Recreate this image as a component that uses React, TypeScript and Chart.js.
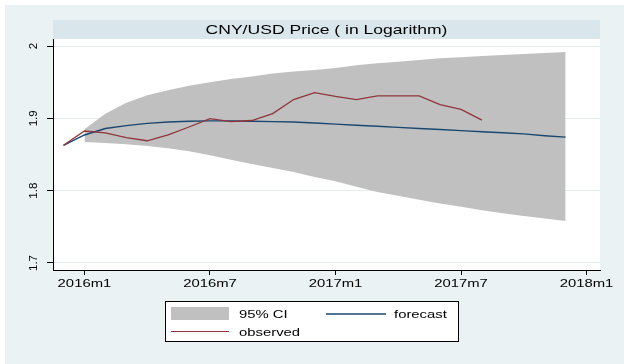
import React, { useEffect, useRef } from 'react';
import { Chart, registerables } from 'chart.js';

Chart.register(...registerables);

// ---------- data ----------
const observedMonths = [
  '2015m12', '2016m1', '2016m2', '2016m3', '2016m4', '2016m5', '2016m6', '2016m7',
  '2016m8', '2016m9', '2016m10', '2016m11', '2016m12', '2017m1', '2017m2', '2017m3',
  '2017m4', '2017m5', '2017m6', '2017m7', '2017m8',
];
const observedValues = [
  1.8627, 1.8825, 1.880, 1.8733, 1.8690, 1.877, 1.888, 1.8996,
  1.8954, 1.897, 1.9065, 1.926, 1.9355, 1.9304, 1.926, 1.931,
  1.931, 1.931, 1.919, 1.9125, 1.8976,
];

const forecastMonths = [
  '2015m12', '2016m1', '2016m2', '2016m3', '2016m4', '2016m5', '2016m6', '2016m7',
  '2016m8', '2016m9', '2016m10', '2016m11', '2016m12', '2017m1', '2017m2', '2017m3',
  '2017m4', '2017m5', '2017m6', '2017m7', '2017m8', '2017m9', '2017m10', '2017m11', '2017m12',
];
const forecastValues = [
  1.8627, 1.877, 1.886, 1.890, 1.893, 1.895, 1.896, 1.8965,
  1.8965, 1.896, 1.8955, 1.895, 1.8935, 1.892, 1.8905, 1.889,
  1.8875, 1.886, 1.8845, 1.883, 1.8815, 1.880, 1.8785, 1.876, 1.874,
];

const ciMonths = [
  '2016m1', '2016m2', '2016m3', '2016m4', '2016m5', '2016m6', '2016m7', '2016m8',
  '2016m9', '2016m10', '2016m11', '2016m12', '2017m1', '2017m2', '2017m3', '2017m4',
  '2017m5', '2017m6', '2017m7', '2017m8', '2017m9', '2017m10', '2017m11', '2017m12',
];
const ciUpper = [
  1.885, 1.9065, 1.9217, 1.932, 1.939, 1.945, 1.950, 1.9544,
  1.958, 1.962, 1.9646, 1.967, 1.9696, 1.9733, 1.976, 1.9784,
  1.9807, 1.983, 1.9844, 1.9862, 1.9876, 1.989, 1.9903, 1.9917,
];
const ciLower = [
  1.8673, 1.8659, 1.864, 1.8617, 1.8585, 1.8544, 1.8488, 1.8429,
  1.8368, 1.8313, 1.8257, 1.819, 1.8129, 1.8053, 1.7983, 1.7928,
  1.7876, 1.7824, 1.7776, 1.773, 1.7689, 1.765, 1.7614, 1.758,
];

const xTickLabels = ['2016m1', '2016m7', '2017m1', '2017m7', '2018m1'];
const yTickLabels = ['1.7', '1.8', '1.9', '2'];
const titleText = 'CNY/USD Price ( in Logarithm)';
const legendLabels = ['95% CI', 'forecast', 'observed'];

// ---------- helpers ----------
const monthIndex = (s: string) => {
  const [y, m] = s.split('m').map(Number);
  return (y - 2016) * 12 + (m - 1);
};
const toPoints = (months: string[], vals: number[]) =>
  months.map((m, i) => ({ x: monthIndex(m), y: vals[i] }));

const W = 624;
const H = 364;
const BG = '#eaf2f3';
const TITLE_BG = '#d9e6eb';
const RED = '#90353b';
const NAVY = '#1a476f';
const GREY = '#c0c0c0';
const TEXT = '#000000';
const FONT = '"Liberation Sans", Arial, sans-serif';
const SX = 1.35;

function stretchText(
  ctx: CanvasRenderingContext2D, text: string, x: number, y: number,
  align: CanvasTextAlign, sx: number,
) {
  ctx.save();
  ctx.translate(x, y);
  ctx.scale(sx, 1);
  ctx.textAlign = align;
  ctx.textBaseline = 'alphabetic';
  ctx.fillText(text, 0, 0);
  ctx.restore();
}

const decor = {
  id: 'decor',
  beforeDraw(chart: any) {
    const { ctx, chartArea: ca } = chart;
    ctx.save();
    ctx.fillStyle = '#ffffff';
    ctx.fillRect(0, 0, W, H);
    ctx.fillStyle = BG;
    ctx.fillRect(5, 5, W - 5, H - 5);
    ctx.fillStyle = TITLE_BG;
    ctx.fillRect(ca.left, 20, ca.right - ca.left, ca.top - 20);
    ctx.fillStyle = '#ffffff';
    ctx.fillRect(ca.left, ca.top, ca.right - ca.left, ca.bottom - ca.top);
    ctx.restore();
  },
  afterDraw(chart: any) {
    const { ctx, chartArea: ca, scales } = chart;
    ctx.save();
    ctx.fillStyle = TEXT;
    // title
    ctx.font = `13px ${FONT}`;
    stretchText(ctx, titleText, (ca.left + ca.right) / 2, 34, 'center', SX);
    // x tick labels
    ctx.font = `11px ${FONT}`;
    scales.x.ticks.forEach((t: any, i: number) => {
      const px = scales.x.getPixelForValue(t.value);
      stretchText(ctx, xTickLabels[i], px, 287, 'center', SX);
    });
    // y tick labels (rotated)
    ctx.font = `11.5px ${FONT}`;
    scales.y.ticks.forEach((t: any, i: number) => {
      const py = scales.y.getPixelForValue(t.value);
      ctx.save();
      ctx.translate(36.5, py);
      ctx.rotate(-Math.PI / 2);
      ctx.textAlign = 'center';
      ctx.textBaseline = 'alphabetic';
      ctx.fillText(yTickLabels[i], 0, 0);
      ctx.restore();
    });
    // legend
    ctx.fillStyle = '#ffffff';
    ctx.fillRect(165, 301, 293, 41);
    ctx.strokeStyle = '#000000';
    ctx.lineWidth = 1;
    ctx.strokeRect(165.5, 301.5, 293, 40);
    ctx.fillStyle = GREY;
    ctx.fillRect(171, 307, 58, 13);
    ctx.strokeStyle = NAVY;
    ctx.lineWidth = 1.3;
    ctx.beginPath();
    ctx.moveTo(326, 314);
    ctx.lineTo(386, 314);
    ctx.stroke();
    ctx.strokeStyle = RED;
    ctx.lineWidth = 1.2;
    ctx.beginPath();
    ctx.moveTo(171, 331.5);
    ctx.lineTo(229, 331.5);
    ctx.stroke();
    ctx.fillStyle = TEXT;
    ctx.font = `11px ${FONT}`;
    stretchText(ctx, legendLabels[0], 239, 318, 'left', SX);
    stretchText(ctx, legendLabels[1], 394, 318, 'left', SX);
    stretchText(ctx, legendLabels[2], 239, 336, 'left', SX);
    ctx.restore();
  },
};

export default function App() {
  const ref = useRef<HTMLCanvasElement | null>(null);

  useEffect(() => {
    if (!ref.current) return;
    const xTickValues = xTickLabels.map(monthIndex);
    const yTickValues = yTickLabels.map(Number);
    const chart = new Chart(ref.current, {
      type: 'line',
      data: {
        datasets: [
          {
            label: legendLabels[2],
            data: toPoints(observedMonths, observedValues),
            borderColor: RED,
            borderWidth: 1.3,
            pointRadius: 0,
            tension: 0,
            fill: false,
          },
          {
            label: legendLabels[1],
            data: toPoints(forecastMonths, forecastValues),
            borderColor: NAVY,
            borderWidth: 1.4,
            pointRadius: 0,
            tension: 0,
            fill: false,
          },
          {
            label: legendLabels[0],
            data: toPoints(ciMonths, ciUpper),
            borderWidth: 0,
            borderColor: 'rgba(0,0,0,0)',
            backgroundColor: GREY,
            pointRadius: 0,
            tension: 0,
            fill: '+1',
          },
          {
            label: 'lower',
            data: toPoints(ciMonths, ciLower),
            borderWidth: 0,
            borderColor: 'rgba(0,0,0,0)',
            backgroundColor: GREY,
            pointRadius: 0,
            tension: 0,
            fill: false,
          },
        ],
      },
      options: {
        animation: false,
        responsive: false,
        devicePixelRatio: 1,
        layout: { padding: { left: 0, right: 24, top: 39, bottom: 0 } },
        plugins: {
          legend: { display: false },
          title: { display: false },
          tooltip: { enabled: false },
        },
        scales: {
          x: {
            type: 'linear',
            min: -1.503,
            max: 24.644,
            afterBuildTicks: (s: any) => {
              s.ticks = xTickValues.map((v) => ({ value: v }));
            },
            afterFit: (s: any) => {
              s.height = 94;
            },
            ticks: { display: false },
            grid: {
              display: true,
              drawOnChartArea: false,
              drawTicks: true,
              tickLength: 5,
              tickColor: '#000000',
              tickWidth: 1,
            },
            border: { display: true, color: '#000000', width: 1 },
          },
          y: {
            type: 'linear',
            min: 1.6903,
            max: 2.0097,
            afterBuildTicks: (s: any) => {
              s.ticks = yTickValues.map((v) => ({ value: v }));
            },
            afterFit: (s: any) => {
              s.width = 53;
            },
            ticks: { display: false },
            grid: {
              display: true,
              color: '#e3ecef',
              lineWidth: 1,
              drawTicks: true,
              tickLength: 6,
              tickColor: '#000000',
              tickWidth: 1,
            },
            border: { display: true, color: '#000000', width: 1 },
          },
        },
      },
      plugins: [decor],
    } as any);
    return () => chart.destroy();
  }, []);

  return (
    <div style={{ position: 'absolute', left: 0, top: 0, width: W, height: H }}>
      <canvas ref={ref} width={W} height={H} style={{ width: W, height: H, display: 'block' }} />
    </div>
  );
}
